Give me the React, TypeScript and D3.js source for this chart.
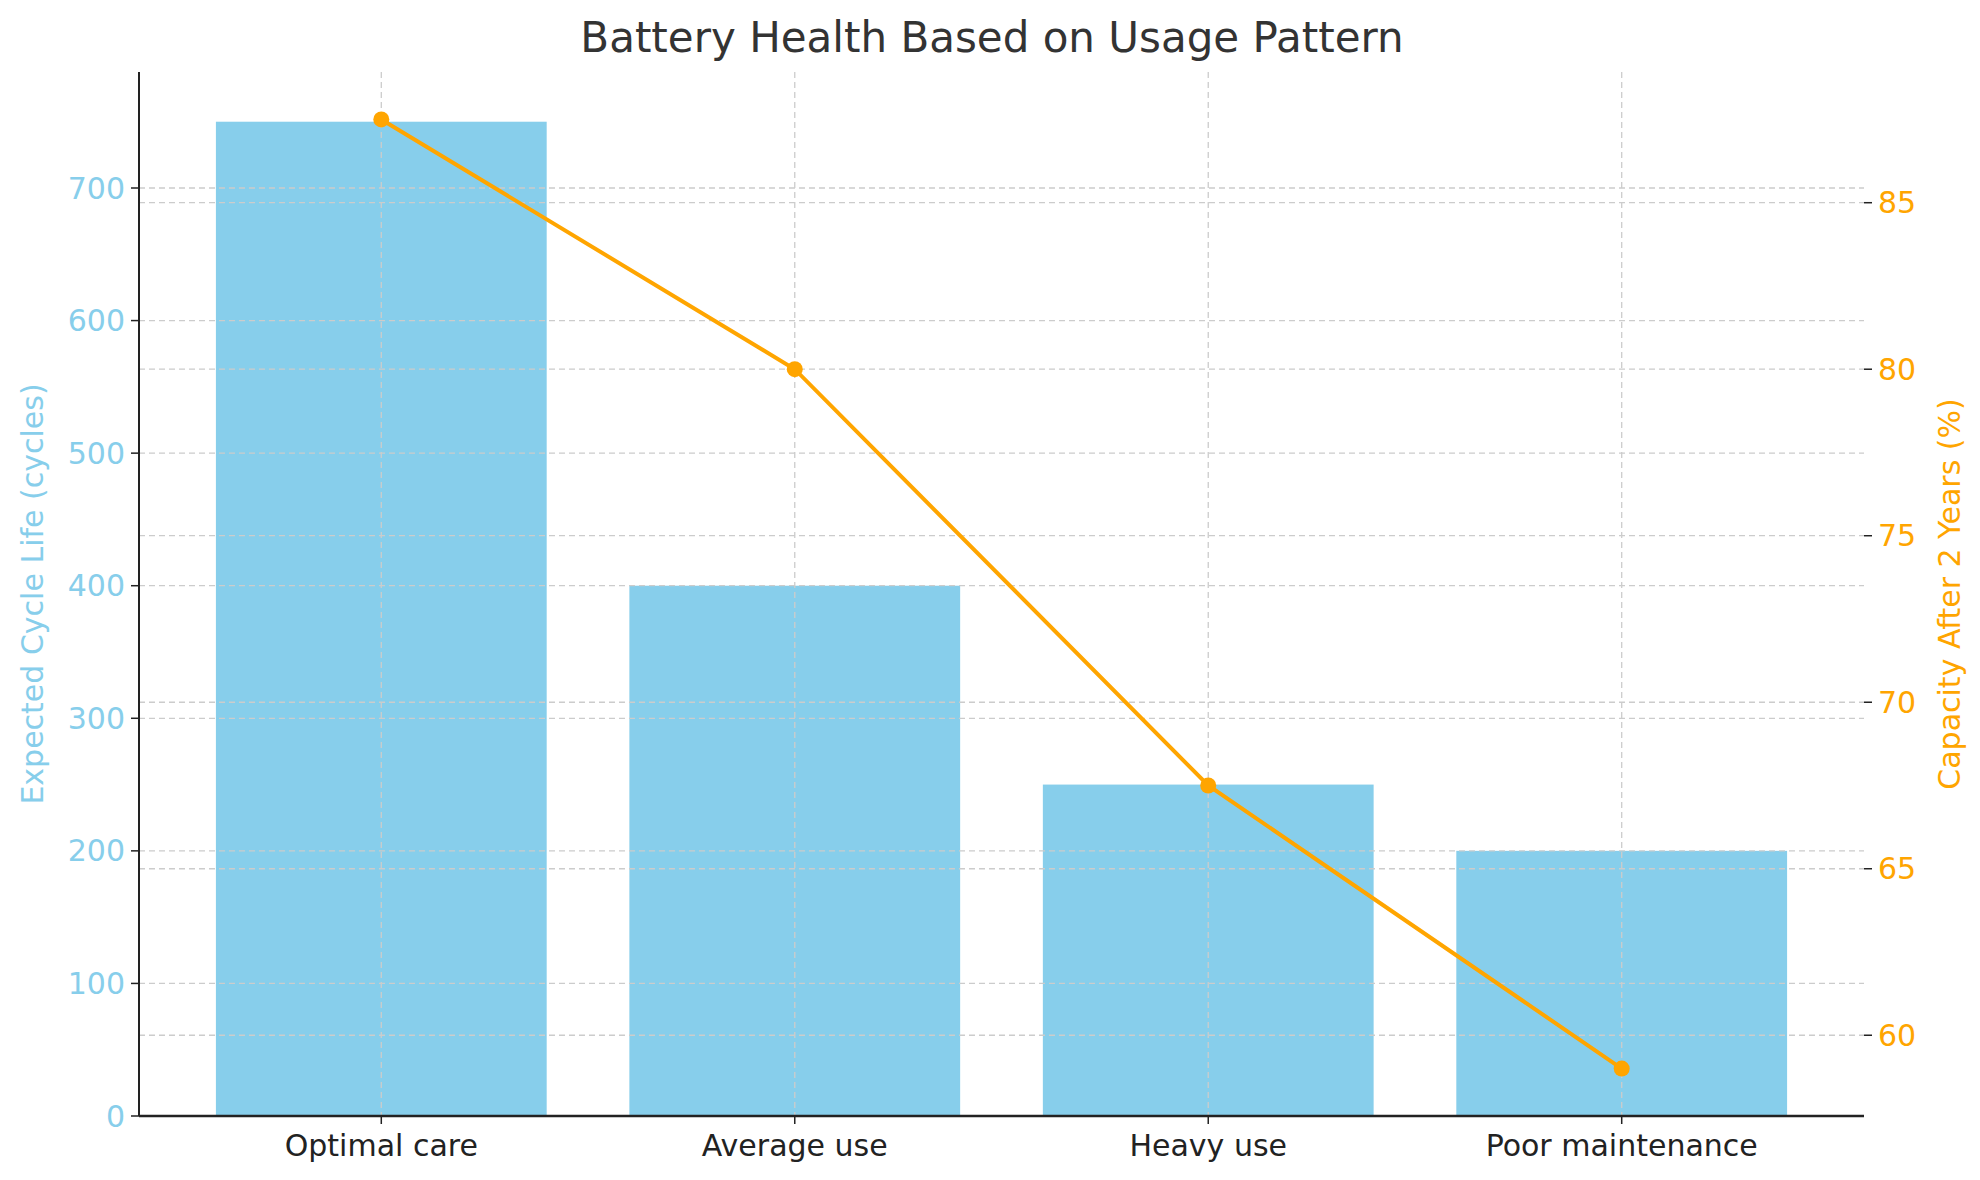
import { line, scaleBand, scaleLinear } from 'd3'

const categories = ['Optimal care', 'Average use', 'Heavy use', 'Poor maintenance']
const cycleLife = [750, 400, 250, 200]
const capacity = [87.5, 80, 67.5, 59]
const leftTicks = [0, 100, 200, 300, 400, 500, 600, 700]
const rightTicks = [60, 65, 70, 75, 80, 85]

const width = 1980
const height = 1180
const margin = { top: 72, right: 116, bottom: 64, left: 139 }
const innerWidth = width - margin.left - margin.right
const innerHeight = height - margin.top - margin.bottom
const font = 'DejaVu Sans, sans-serif'
const sky = '#87CEEB'
const orange = '#FFA500'
const grid = '#cccccc'

const App = () => {
  const x = scaleBand().domain(categories).range([0, innerWidth]).paddingInner(0.2).paddingOuter(0.186)
  const yL = scaleLinear().domain([0, 787.5]).range([innerHeight, 0])
  const capMin = Math.min(...capacity)
  const capMax = Math.max(...capacity)
  const pad = (capMax - capMin) * 0.05
  const yR = scaleLinear().domain([capMin - pad, capMax + pad]).range([innerHeight, 0])
  const cx = (c: string) => (x(c) ?? 0) + x.bandwidth() / 2
  const pts = categories.map((c, i) => [cx(c), yR(capacity[i])] as [number, number])
  const path = line()(pts) ?? ''

  return (
    <svg width={width} height={height} style={{ display: 'block', margin: -8 }} fontFamily={font}>
      <rect width={width} height={height} fill="white" />
      <text x={width / 2 + 2} y={52} textAnchor="middle" fontSize={42} fill="#333">
        Battery Health Based on Usage Pattern
      </text>
      <g transform={`translate(${margin.left},${margin.top})`}>
        {categories.map((c, i) => (
          <rect key={c} x={x(c)} y={yL(cycleLife[i])} width={x.bandwidth()} height={innerHeight - yL(cycleLife[i])} fill={sky} />
        ))}
        {leftTicks.map((t) => (
          <g key={'l' + t} transform={`translate(0,${yL(t)})`}>
            <line x2={innerWidth} stroke={grid} strokeDasharray="6 4" strokeWidth={1.3} />
            <line x2={-8} stroke="#222" strokeWidth={1.5} />
            <text x={-14} dy="0.35em" textAnchor="end" fontSize={30} fill={sky}>{t}</text>
          </g>
        ))}
        {rightTicks.map((t) => (
          <g key={'r' + t} transform={`translate(0,${yR(t)})`}>
            <line x2={innerWidth} stroke={grid} strokeDasharray="6 4" strokeWidth={1.3} />
            <line x1={innerWidth} x2={innerWidth + 8} stroke="#222" strokeWidth={1.5} />
            <text x={innerWidth + 14} dy="0.35em" fontSize={30} fill={orange}>{t}</text>
          </g>
        ))}
        {categories.map((c) => (
          <g key={'x' + c} transform={`translate(${cx(c)},0)`}>
            <line y2={innerHeight} stroke={grid} strokeDasharray="6 4" strokeWidth={1.3} />
            <line y1={innerHeight} y2={innerHeight + 8} stroke="#222" strokeWidth={1.5} />
            <text y={innerHeight + 40} textAnchor="middle" fontSize={30} fill="#222">{c}</text>
          </g>
        ))}
        <path d={path} fill="none" stroke={orange} strokeWidth={4} />
        {pts.map((p, i) => (
          <circle key={i} cx={p[0]} cy={p[1]} r={8} fill={orange} />
        ))}
        <line x1={0} x2={0} y1={0} y2={innerHeight} stroke="#222" strokeWidth={2} />
        <line x1={0} x2={innerWidth} y1={innerHeight} y2={innerHeight} stroke="#222" strokeWidth={2.5} />
        <text transform={`translate(-96,${innerHeight / 2}) rotate(-90)`} textAnchor="middle" fontSize={30} fill={sky}>
          Expected Cycle Life (cycles)
        </text>
        <text transform={`translate(${innerWidth + 96},${innerHeight / 2}) rotate(-90)`} textAnchor="middle" fontSize={30} fill={orange}>
          Capacity After 2 Years (%)
        </text>
      </g>
    </svg>
  )
}

export default App
